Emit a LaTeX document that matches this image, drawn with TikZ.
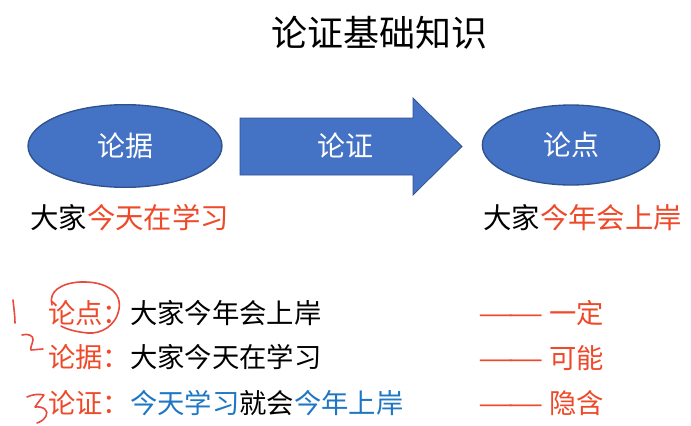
\documentclass[tikz,border=0pt]{standalone}
\usepackage{fontspec}
\setmainfont{Noto Sans CJK SC}
\usetikzlibrary{shapes.geometric}
\definecolor{lunblue}{HTML}{4472C4}
\definecolor{lunedge}{HTML}{2F528F}
\definecolor{lunred}{HTML}{EE4A2A}
\definecolor{textblue}{HTML}{1F76C4}
\definecolor{penred}{HTML}{EA4A3E}
\newcommand{\hl}[1]{\textcolor{lunred}{#1}}
\newcommand{\bl}[1]{\textcolor{textblue}{#1}}
\newcommand{\dd}{\scalebox{1.45}[1]{—}\hspace{-4pt}\scalebox{1.45}[1]{—}\hspace{4pt}}

\begin{document}
\begin{tikzpicture}[x=0.75pt,y=-0.75pt,
  lun/.style={ellipse, draw=lunedge, fill=lunblue, line width=1pt, text=white, font=\fontsize{21}{21}\selectfont},
  line/.style={anchor=west, inner sep=0pt, font=\fontsize{20.5}{20.5}\selectfont},
  pen/.style={penred, line width=1.2pt, line cap=round, line join=round}]
\useasboundingbox (0,0) rectangle (691,425);

% title
\node (title) at (379,33) {\fontsize{27}{27}\selectfont 论证基础知识};

% ellipses and arrow
\node[lun, minimum width=145.5pt, minimum height=62pt] (ju) at (125,146) {论据};
\node[lun, minimum width=133pt, minimum height=60pt] (dian) at (571,145) {论点};
\fill[lunblue, draw=lunedge, line width=0.6pt] (240,118) -- (413,118) -- (413,98) -- (462,146.5)
  -- (413,195) -- (413,175) -- (240,175) -- cycle;
\node[text=white, font=\fontsize{21}{21}\selectfont] (zheng) at (345,146) {论证};

% examples
\node[line, font=\fontsize{21.3}{21.3}\selectfont] (exju) at (30,218) {大家\hl{今天在学习}};
\node[line, font=\fontsize{21.3}{21.3}\selectfont] (exdian) at (483,218) {大家\hl{今年会上岸}};

% rows
\node[line] (r1) at (48,313) {\hl{论点：}大家今年会上岸};
\node[line] (r2) at (48,357) {\hl{论据：}大家今天在学习};
\node[line] (r3) at (48,403) {\hl{论证：}\bl{今天学习}就会\bl{今年上岸}};
\node[line, text=lunred] (s1) at (478,313) {\dd 一定};
\node[line, text=lunred] (s2) at (478,358) {\dd 可能};
\node[line, text=lunred] (s3) at (478,403) {\dd 隐含};

% pen marks
\draw[pen] (13,300) .. controls (14,310) and (15,316) .. (15,323);
\draw[pen] (52,305) .. controls (48,291) and (62,283) .. (80,282)
  .. controls (106,281) and (122,292) .. (119,309)
  .. controls (116,326) and (101,334) .. (88,333)
  .. controls (76,332) and (66,329) .. (61,326);
\draw[pen] (22,335) .. controls (28,333) and (34,336) .. (33,340)
  .. controls (32,345) and (30,348) .. (31,350) -- (43,349);
\draw[pen] (27,397) .. controls (33,394) and (40,394) .. (44,395)
  .. controls (40,400) and (37,404) .. (35,407)
  .. controls (44,406) and (49,411) .. (46,416)
  .. controls (44,420) and (40,422) .. (37,423);
\end{tikzpicture}
\end{document}
